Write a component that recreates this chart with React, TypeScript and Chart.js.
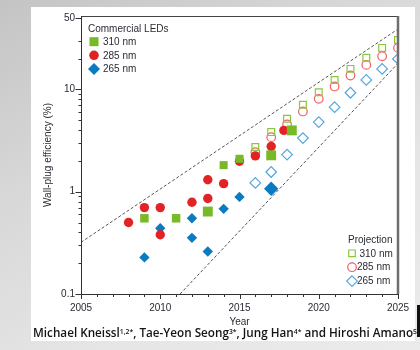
import React, { useEffect, useLayoutEffect, useRef } from "react";
import { Chart, registerables } from "chart.js";

Chart.register(...registerables);

// ---------- data ----------
const seriesNames = ["310 nm", "285 nm", "265 nm"];
const commercialTitle = "Commercial LEDs";
const projectionTitle = "Projection";

// Commercial LEDs (filled markers)
const years310 = [2009, 2011, 2013, 2014, 2015, 2017, 2018.3];
const values310 = [0.55, 0.55, 0.64, 1.82, 2.1, 2.27, 3.98];

const years285 = [2008, 2009, 2010, 2010, 2012, 2013, 2013, 2014, 2015, 2016, 2017, 2017.8];
const values285 = [0.5, 0.7, 0.7, 0.38, 0.79, 0.86, 1.31, 1.2, 1.99, 2.24, 2.78, 3.98];

const years265 = [2009, 2010, 2012, 2012, 2013, 2014, 2015, 2017];
const values265 = [0.228, 0.44, 0.55, 0.354, 0.26, 0.68, 0.89, 1.07];

// Projection (open markers)
const projYears = [2016, 2017, 2018, 2019, 2020, 2021, 2022, 2023, 2024, 2025];
const proj310 = [2.74, 3.83, 5.18, 7.09, 9.41, 12.4, 15.9, 20.4, 25.5, 30.5];
const proj285 = [2.44, 3.42, 4.56, 6.1, 8.11, 10.7, 13.7, 17.4, 21.1, 25.5];
const proj265 = [1.22, 1.56, 2.31, 3.35, 4.8, 6.72, 9.29, 12.4, 15.9, 19.9];

// Dashed guide lines
const upperGuideYears = [2005, 2025];
const upperGuideValues = [0.32, 39];
const lowerGuideYears = [2011.25, 2025];
const lowerGuideValues = [0.1, 18];

// Axes
const xMin = 2005;
const xMax = 2025;
const xLabelTicks = [2005, 2010, 2015, 2020, 2025];
const yMin = 0.1;
const yMax = 52.3;
const yLabelTicks = [0.1, 1, 10, 50];
const yMinorTicks = [0.2, 0.3, 0.4, 0.5, 0.6, 0.7, 0.8, 0.9, 2, 3, 4, 5, 6, 7, 8, 9, 20, 30];
const xTitle = "Year";
const yTitle = "Wall-plug efficiency (%)";

// ---------- styles ----------
const GREEN = "#78b928";
const RED = "#e22326";
const BLUE = "#0a7bc0";
const PGREEN = "#8cc63f";
const PRED = "#ee6266";
const PBLUE = "#55a7de";
const FONT = '"Liberation Sans", Arial, sans-serif';
const TEXT = "#2b2b35";

const radius310 = [6, 6, 7, 5.7, 5.7, 7, 7];
const radius265 = [5.2, 5.2, 5.2, 5.2, 5.2, 5.2, 5.2, 7.2];

const pts = (xs: number[], ys: number[]) => xs.map((x, i) => ({ x, y: ys[i] }));

function drawMarker(ctx: CanvasRenderingContext2D, kind: string, x: number, y: number, r: number, color: string, filled: boolean) {
  ctx.beginPath();
  if (kind === "square") {
    ctx.rect(x - r, y - r, 2 * r, 2 * r);
  } else if (kind === "circle") {
    ctx.arc(x, y, r, 0, Math.PI * 2);
  } else {
    ctx.moveTo(x, y - r);
    ctx.lineTo(x + r, y);
    ctx.lineTo(x, y + r);
    ctx.lineTo(x - r, y);
    ctx.closePath();
  }
  if (filled) {
    ctx.fillStyle = color;
    ctx.fill();
  } else {
    ctx.strokeStyle = color;
    ctx.lineWidth = 1.2;
    ctx.stroke();
  }
}

const framePlugin = {
  id: "frame",
  afterDraw(chart: any) {
    const { ctx, chartArea: a, scales } = chart;
    const xs = scales.x;
    const ys = scales.y;
    ctx.save();
    // top border
    ctx.strokeStyle = "#444";
    ctx.lineWidth = 1;
    ctx.beginPath();
    ctx.moveTo(a.left, Math.round(a.top) + 0.5);
    ctx.lineTo(a.right, Math.round(a.top) + 0.5);
    ctx.stroke();
    // right border
    ctx.strokeStyle = "#6e6e6e";
    ctx.lineWidth = 2.5;
    ctx.beginPath();
    ctx.moveTo(a.right, a.top);
    ctx.lineTo(a.right, a.bottom);
    ctx.stroke();
    // axis lines
    ctx.strokeStyle = "#333";
    ctx.lineWidth = 1;
    ctx.beginPath();
    ctx.moveTo(Math.round(a.left) + 0.5, a.top);
    ctx.lineTo(Math.round(a.left) + 0.5, Math.round(a.bottom) + 0.5);
    ctx.lineTo(a.right, Math.round(a.bottom) + 0.5);
    ctx.stroke();
    // x ticks
    ctx.beginPath();
    for (let yr = xMin; yr <= xMax; yr++) {
      const px = Math.round(xs.getPixelForValue(yr)) + 0.5;
      const len = xLabelTicks.includes(yr) ? 5 : 3;
      ctx.moveTo(px, Math.round(a.bottom));
      ctx.lineTo(px, Math.round(a.bottom) + len);
    }
    // y ticks
    const all = [...yLabelTicks.map((v) => [v, 6]), ...yMinorTicks.map((v) => [v, 3])];
    for (const [v, len] of all) {
      const py = Math.round(ys.getPixelForValue(v)) + 0.5;
      ctx.moveTo(Math.round(a.left) + 0.5, py);
      ctx.lineTo(Math.round(a.left) + 0.5 - len, py);
    }
    ctx.stroke();

    // legends
    ctx.font = `10px ${FONT}`;
    ctx.fillStyle = TEXT;
    ctx.textBaseline = "middle";
    ctx.textAlign = "left";
    const L = a.left;
    const T = a.top;
    ctx.fillText(commercialTitle, L + 7, T + 13);
    const kinds = ["square", "circle", "diamond"];
    const fills = [GREEN, RED, BLUE];
    const legR = [4.5, 4.8, 6];
    kinds.forEach((k, i) => {
      const cy = T + 25.7 + i * 13.6;
      drawMarker(ctx, k, L + 13, cy, legR[i], fills[i], true);
      ctx.fillStyle = TEXT;
      ctx.fillText(seriesNames[i], L + 22, cy + 0.5);
    });
    const R = a.right;
    const B = a.bottom;
    ctx.fillText(projectionTitle, R - 50, B - 54);
    const pcols = [PGREEN, PRED, PBLUE];
    const pR = [3.3, 4.3, 5.3];
    const textOff = [7.5, 5, 5];
    kinds.forEach((k, i) => {
      const cy = B - 40.7 + i * 13.9;
      drawMarker(ctx, k, R - 46, cy, pR[i], pcols[i], false);
      ctx.fillStyle = TEXT;
      ctx.fillText(seriesNames[i], R - 46 + textOff[i], cy + 0.5);
    });
    ctx.restore();
  },
};

export default function App() {
  const canvasRef = useRef<HTMLCanvasElement | null>(null);
  const capRef = useRef<HTMLDivElement | null>(null);

  useLayoutEffect(() => {
    const el = capRef.current;
    if (el) {
      el.style.transform = "none";
      const w = el.scrollWidth;
      if (w > 0) el.style.transform = `scaleX(${384 / w})`;
    }
  }, []);

  useEffect(() => {
    if (!canvasRef.current) return;
    const openCommon = { pointBackgroundColor: "rgba(255,255,255,0)", pointBorderWidth: 1.2, showLine: false };
    const chart = new Chart(canvasRef.current, {
      type: "scatter",
      data: {
        datasets: [
          {
            label: seriesNames[0],
            data: pts(years310, values310),
            pointStyle: "rect",
            pointRadius: radius310,
            pointBackgroundColor: GREEN,
            pointBorderWidth: 0,
            backgroundColor: GREEN,
          },
          {
            label: seriesNames[1],
            data: pts(years285, values285),
            pointStyle: "circle",
            pointRadius: 4.7,
            pointBackgroundColor: RED,
            pointBorderWidth: 0,
            backgroundColor: RED,
          },
          {
            label: seriesNames[2],
            data: pts(years265, values265),
            pointStyle: "rectRot",
            pointRadius: radius265,
            pointBackgroundColor: BLUE,
            pointBorderWidth: 0,
            backgroundColor: BLUE,
          },
          {
            label: seriesNames[0] + " projection",
            data: pts(projYears, proj310),
            pointStyle: "rect",
            pointRadius: 4.8,
            pointBorderColor: PGREEN,
            ...openCommon,
          },
          {
            label: seriesNames[1] + " projection",
            data: pts(projYears, proj285),
            pointStyle: "circle",
            pointRadius: 4.3,
            pointBorderColor: PRED,
            ...openCommon,
          },
          {
            label: seriesNames[2] + " projection",
            data: pts(projYears, proj265),
            pointStyle: "rectRot",
            pointRadius: 5.3,
            pointBorderColor: PBLUE,
            ...openCommon,
          },
          {
            type: "line",
            label: "upper",
            data: pts(upperGuideYears, upperGuideValues),
            borderColor: "#555",
            borderWidth: 1,
            borderDash: [3, 2],
            pointRadius: 0,
            showLine: true,
            fill: false,
          } as any,
          {
            type: "line",
            label: "lower",
            data: pts(lowerGuideYears, lowerGuideValues),
            borderColor: "#555",
            borderWidth: 1,
            borderDash: [3, 2],
            pointRadius: 0,
            showLine: true,
            fill: false,
          } as any,
        ],
      },
      options: {
        animation: false,
        responsive: false,
        devicePixelRatio: 1,
        layout: { padding: { top: 16, right: 22, left: 0, bottom: 0 } },
        plugins: { legend: { display: false }, tooltip: { enabled: false } },
        scales: {
          x: {
            type: "linear",
            min: xMin,
            max: xMax,
            afterBuildTicks: (s: any) => {
              s.ticks = xLabelTicks.map((v) => ({ value: v }));
            },
            afterFit: (s: any) => {
              s.height = 56;
            },
            grid: { display: false, drawTicks: false },
            border: { display: false },
            ticks: {
              autoSkip: false,
              maxRotation: 0,
              padding: 8,
              color: TEXT,
              font: { family: FONT, size: 10 },
              callback: (v: any) => String(v),
            },
            title: {
              display: true,
              text: xTitle,
              color: TEXT,
              font: { family: FONT, size: 10 },
              padding: { top: 0, bottom: 22 },
            },
          },
          y: {
            type: "logarithmic",
            min: yMin,
            max: yMax,
            afterBuildTicks: (s: any) => {
              s.ticks = yLabelTicks.map((v) => ({ value: v }));
            },
            afterFit: (s: any) => {
              s.width = 81;
            },
            grid: { display: false, drawTicks: false },
            border: { display: false },
            ticks: {
              autoSkip: false,
              padding: 6,
              color: TEXT,
              font: { family: FONT, size: 10 },
              callback: (v: any) => String(v),
            },
            title: {
              display: true,
              text: yTitle,
              color: TEXT,
              font: { family: FONT, size: 10 },
              padding: { top: 42, bottom: 0 },
            },
          },
        },
      },
      plugins: [framePlugin],
    });
    return () => chart.destroy();
  }, []);

  const sup = { fontSize: "0.58em", verticalAlign: "top", position: "relative" as const, top: "-0.1em" };

  return (
    <div
      style={{
        position: "fixed",
        left: 0,
        top: 0,
        width: 420,
        height: 350,
        overflow: "hidden",
        background: "linear-gradient(150deg, #c4c4c4 0%, #d8d8d8 35%, #e6e6e6 70%, #ebebeb 100%)",
      }}
    >
      <div style={{ position: "absolute", left: 31, top: 7, width: 384, height: 334, background: "#ffffff" }} />
      <canvas ref={canvasRef} width={420} height={350} style={{ position: "absolute", left: 0, top: 0, width: 420, height: 350 }} />
      <div
        ref={capRef}
        style={{
          position: "absolute",
          left: 33,
          top: 325.5,
          whiteSpace: "nowrap",
          fontFamily: '"Open Sans", sans-serif',
          fontWeight: 600,
          fontSize: 13,
          lineHeight: "13px",
          color: "#141414",
          transformOrigin: "left top",
        }}
      >
        Michael Kneissl<span style={sup}>1,2*</span>, Tae-Yeon Seong<span style={sup}>3*</span>, Jung Han<span style={sup}>4*</span> and Hiroshi Amano<span style={sup}>5</span>
      </div>
      <div style={{ position: "absolute", left: 417, top: 305, width: 3, height: 32, background: "#111" }} />
    </div>
  );
}
